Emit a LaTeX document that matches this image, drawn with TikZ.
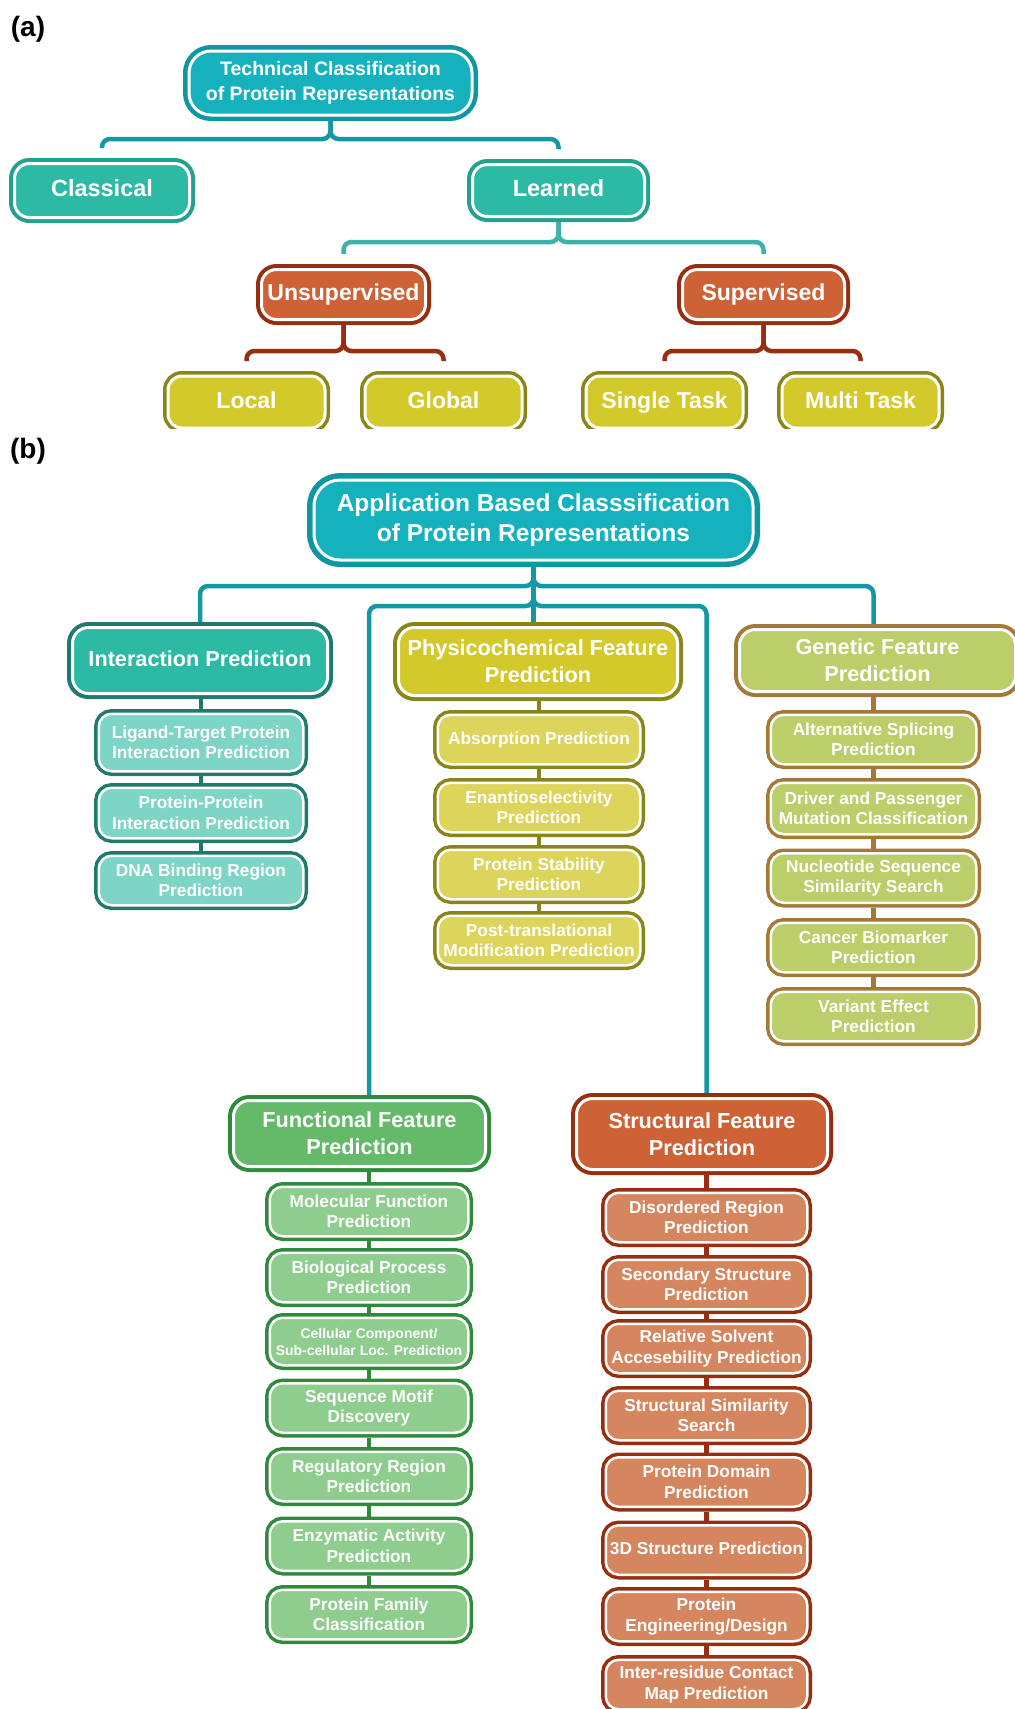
\documentclass[tikz,border=0pt]{standalone}
\usepackage{fontspec}
\setmainfont{Liberation Sans}
\usetikzlibrary{backgrounds}

% palette
\definecolor{tealD}{HTML}{0E97A3}
\definecolor{tealF}{HTML}{15B2BE}
\definecolor{tealC}{HTML}{1598A5}
\definecolor{mintD}{HTML}{24A08D}
\definecolor{mintF}{HTML}{2DBAA5}
\definecolor{mintC}{HTML}{3BB3AA}
\definecolor{intD}{HTML}{1D7A6D}
\definecolor{intS}{HTML}{7DD5C6}
\definecolor{rustD}{HTML}{972E0F}
\definecolor{rustF}{HTML}{CC6236}
\definecolor{rustS}{HTML}{D6865F}
\definecolor{oliveD}{HTML}{8A8519}
\definecolor{mustF}{HTML}{D4C92B}
\definecolor{mustS}{HTML}{DDD45B}
\definecolor{brownD}{HTML}{A57838}
\definecolor{limeF}{HTML}{BBCE69}
\definecolor{greenD}{HTML}{2F8A3B}
\definecolor{greenF}{HTML}{65BA6A}
\definecolor{greenS}{HTML}{8ECD8E}

\tikzset{
  every node/.style={inner sep=0pt, text=white, align=center},
  lab/.style={text=black, font=\fontsize{28pt}{30pt}\selectfont\bfseries},
  % framed boxes: dark outer rim, white inner rim, coloured body
  rootAbox/.style 2 args={rectangle, rounded corners=22pt, fill=#2, draw=white,
    line width=3pt, outer sep=6pt, preaction={draw=#1, line width=12pt},
    font=\fontsize{19.5pt}{25pt}\selectfont\bfseries},
  rootBbox/.style 2 args={rectangle, rounded corners=26pt, fill=#2, draw=white,
    line width=3pt, outer sep=7pt, preaction={draw=#1, line width=14pt},
    font=\fontsize{24.5pt}{30pt}\selectfont\bfseries},
  levbox/.style 2 args={rectangle, rounded corners=15pt, fill=#2, draw=white,
    line width=3pt, outer sep=5.5pt, preaction={draw=#1, line width=11pt},
    text height=17pt, text depth=4.7pt,
    font=\fontsize{23.5pt}{28pt}\selectfont\bfseries},
  leafbox/.style 2 args={rectangle, rounded corners=14pt, fill=#2, draw=white,
    line width=3pt, outer sep=5pt, preaction={draw=#1, line width=10pt},
    minimum width=157pt, minimum height=52pt,
    text height=16.6pt, text depth=4.6pt,
    font=\fontsize{23pt}{28pt}\selectfont\bfseries},
  headbox/.style 2 args={rectangle, rounded corners=16pt, fill=#2, draw=white,
    line width=3pt, outer sep=5.5pt, preaction={draw=#1, line width=11pt},
    font=\fontsize{21.7pt}{27pt}\selectfont\bfseries},
  subbox/.style 2 args={rectangle, rounded corners=13pt, fill=#2, draw=white,
    line width=2.5pt, outer sep=4.75pt, preaction={draw=#1, line width=9.5pt},
    minimum height=49.5pt,
    font=\fontsize{17.3pt}{20.5pt}\selectfont\bfseries},
  oneline/.style={text height=#1*0.72, text depth=#1*0.16},
  link/.style={draw=#1, line width=4.5pt, rounded corners=8pt},
  chain/.style={draw=#1, line width=4.5pt},
  % column box kinds
  iS/.style={subbox={intD}{intS}, minimum width=204.5pt},
  pS/.style={subbox={oliveD}{mustS}, minimum width=202.5pt},
  gS/.style={subbox={brownD}{limeF}, minimum width=205.5pt},
  fS/.style={subbox={greenD}{greenS}, minimum width=198.5pt},
  sS/.style={subbox={rustD}{rustS}, minimum width=201.5pt},
}

\begin{document}
\begin{tikzpicture}[x=1pt,y=-1pt]
\useasboundingbox (0,0) rectangle (1015,1709);
\clip (0,0) rectangle (1015,1709);

%% ---------------- (a) technical classification ----------------
\node[lab] (la) at (28,29) {(a)};
\node[rootAbox={tealD}{tealF}, minimum width=283pt, minimum height=64pt] (tr) at (330.5,83)
  {Technical Classification\\of Protein Representations};
\node[levbox={mintD}{mintF}, minimum width=175pt, minimum height=54pt] (cl) at (102,190.5) {Classical};
\node[levbox={mintD}{mintF}, minimum width=172pt, minimum height=52pt] (le) at (558.5,190.5) {Learned};
\node[levbox={rustD}{rustF}, minimum width=164pt, minimum height=50pt,
  font=\fontsize{23pt}{28pt}\selectfont\bfseries] (us) at (343.5,294.5) {Unsupervised};
\node[levbox={rustD}{rustF}, minimum width=162pt, minimum height=50pt,
  font=\fontsize{23pt}{28pt}\selectfont\bfseries] (su) at (763.5,294.5) {Supervised};
\begin{scope}
  \clip (0,0) rectangle (1015,428);
  \node[leafbox={oliveD}{mustF}] (lo) at (246.5,402) {Local};
  \node[leafbox={oliveD}{mustF}] (gl) at (443.5,402) {Global};
  \node[leafbox={oliveD}{mustF}] (sg) at (664.5,402) {Single Task};
  \node[leafbox={oliveD}{mustF}] (mt) at (860.5,402) {Multi Task};
\end{scope}

%% ---------------- (b) application based classification ----------------
\node[lab] (lb) at (28,451) {(b)};
\node[rootBbox={tealD}{tealF}, minimum width=439pt, minimum height=80pt] (rb) at (533.5,520)
  {Application Based Classsification\\of Protein Representations};

% interaction prediction
\node[headbox={intD}{mintF}, minimum width=255pt, minimum height=66pt, oneline=21.7pt] (ip) at (200,660.5) {Interaction Prediction};
\node[iS, minimum height=57.5pt] (i1) at (201,742.5) {Ligand-Target Protein\\Interaction Prediction};
\node[iS, minimum height=50.5pt] (i2) at (201,813) {Protein-Protein\\Interaction Prediction};
\node[iS] (i3) at (201,880.5) {DNA Binding Region\\Prediction};

% physicochemical feature prediction
\node[headbox={oliveD}{mustF}, minimum width=279pt, minimum height=68pt] (ph) at (538,661.5) {Physicochemical Feature\\Prediction};
\node[pS, oneline=17.3pt] (p1) at (539,739.5) {Absorption Prediction};
\node[pS] (p2) at (539,807.5) {Enantioselectivity\\Prediction};
\node[pS] (p3) at (539,874.5) {Protein Stability\\Prediction};
\node[pS] (p4) at (539,940.5) {Post-translational\\Modification Prediction};

% genetic feature prediction
\node[headbox={brownD}{limeF}, minimum width=276pt, minimum height=62pt] (ge) at (877.5,660.5) {Genetic Feature\\Prediction};
\node[gS] (g1) at (873.5,739.5) {Alternative Splicing\\Prediction};
\node[gS, minimum height=51.5pt] (g2) at (873.5,808.5) {Driver and Passenger\\Mutation Classification};
\node[gS] (g3) at (873.5,878) {Nucleotide Sequence\\Similarity Search};
\node[gS] (g4) at (873.5,947.5) {Cancer Biomarker\\Prediction};
\node[gS] (g5) at (873.5,1016.5) {Variant Effect\\Prediction};

% functional feature prediction
\node[headbox={greenD}{greenF}, minimum width=252pt, minimum height=66pt] (fu) at (359.5,1133.5) {Functional Feature\\Prediction};
\node[fS] (f1) at (369,1211.5) {Molecular Function\\Prediction};
\node[fS] (f2) at (369,1277.5) {Biological Process\\Prediction};
\node[fS, minimum height=47.5pt, font=\fontsize{14pt}{17pt}\selectfont\bfseries] (f3) at (369,1341.5)
  {Cellular Component/\\Sub-cellular Loc. Prediction};
\node[fS] (f4) at (369,1408) {Sequence Motif\\Discovery};
\node[fS] (f5) at (369,1476.5) {Regulatory Region\\Prediction};
\node[fS] (f6) at (369,1546) {Enzymatic Activity\\Prediction};
\node[fS] (f7) at (369,1614.5) {Protein Family\\Classification};

% structural feature prediction
\node[headbox={rustD}{rustF}, minimum width=251pt, minimum height=71pt] (sh) at (702,1134) {Structural Feature\\Prediction};
\node[sS] (s1) at (706.5,1217.5) {Disordered Region\\Prediction};
\node[sS] (s2) at (706.5,1284.5) {Secondary Structure\\Prediction};
\node[sS] (s3) at (706.5,1348.5) {Relative Solvent\\Accesebility Prediction};
\node[sS] (s4) at (706.5,1415.5) {Structural Similarity\\Search};
\node[sS] (s5) at (706.5,1482) {Protein Domain\\Prediction};
\node[sS, oneline=17.3pt] (s6) at (706.5,1550) {3D Structure Prediction};
\node[sS] (s7) at (706.5,1616.5) {Protein\\Engineering/Design};
\node[sS] (s8) at (706.5,1684.5) {Inter-residue Contact\\Map Prediction};

%% ---------------- connectors ----------------
\begin{pgfonlayer}{background}
  % (a) brackets
  \draw[link=tealC] (tr.south) -- ++(0,18) -| ([yshift=10pt]cl.north);
  \draw[link=tealC] (tr.south) -- ++(0,18) -| ([yshift=10pt]le.north);
  \draw[link=mintC] (le.south) -- ++(0,20) -| ([yshift=10pt]us.north);
  \draw[link=mintC] (le.south) -- ++(0,20) -| ([yshift=10pt]su.north);
  \draw[link=rustD] (us.south) -- ++(0,26) -| ([yshift=10pt]lo.north);
  \draw[link=rustD] (us.south) -- ++(0,26) -| ([yshift=10pt]gl.north);
  \draw[link=rustD] (su.south) -- ++(0,26) -| ([yshift=10pt]sg.north);
  \draw[link=rustD] (su.south) -- ++(0,26) -| ([yshift=10pt]mt.north);

  % (b) root to the five groups
  \draw[link=tealC] (rb.south) -- ++(0,19) -| (ip.north);
  \draw[link=tealC] (rb.south) -- ++(0,19) -| (g1.north |- ge.north);
  \draw[chain=tealC] (rb.south) -- (rb.south |- ph.north);
  \draw[link=tealC] (rb.south) -- ++(0,39) -| (f1.north |- fu.north);
  \draw[link=tealC] (rb.south) -- ++(0,39) -| (s1.north |- sh.north);

  % group chains
  \draw[chain=intD] (i1.north |- ip.south) -- (i1.north)
    (i1.south) -- (i2.north) (i2.south) -- (i3.north);
  \draw[chain=oliveD] (p1.north |- ph.south) -- (p1.north)
    (p1.south) -- (p2.north) (p2.south) -- (p3.north) (p3.south) -- (p4.north);
  \draw[chain=brownD] (g1.north |- ge.south) -- (g1.north)
    (g1.south) -- (g2.north) (g2.south) -- (g3.north) (g3.south) -- (g4.north)
    (g4.south) -- (g5.north);
  \draw[chain=greenD] (f1.north |- fu.south) -- (f1.north)
    (f1.south) -- (f2.north) (f2.south) -- (f3.north) (f3.south) -- (f4.north)
    (f4.south) -- (f5.north) (f5.south) -- (f6.north) (f6.south) -- (f7.north);
  \draw[chain=rustD] (s1.north |- sh.south) -- (s1.north)
    (s1.south) -- (s2.north) (s2.south) -- (s3.north) (s3.south) -- (s4.north)
    (s4.south) -- (s5.north) (s5.south) -- (s6.north) (s6.south) -- (s7.north)
    (s7.south) -- (s8.north);
\end{pgfonlayer}
\end{tikzpicture}
\end{document}
